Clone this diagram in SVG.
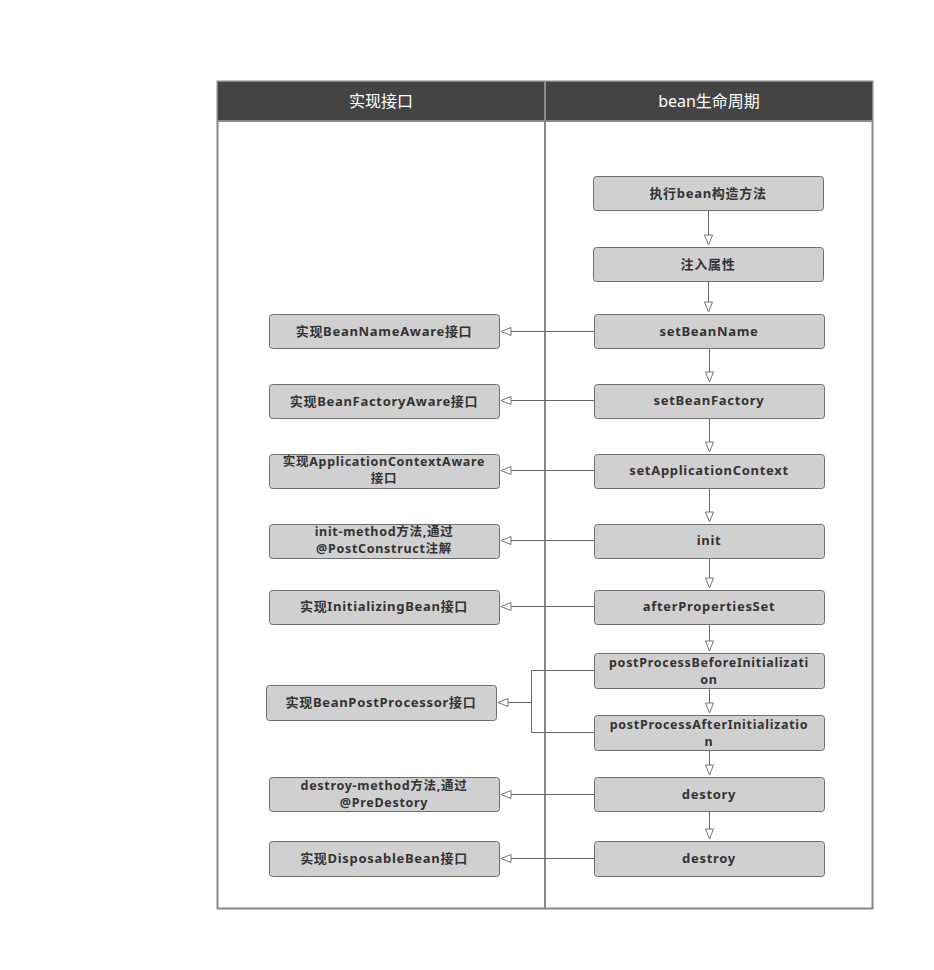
<svg xmlns="http://www.w3.org/2000/svg" width="934" height="970" viewBox="0 0 934 970">
<defs>
<style>
.node rect{fill:#d0d0d0;stroke:#6f6f6f;stroke-width:1}
.node text{font-family:"Noto Sans","Noto Sans CJK SC",sans-serif;font-weight:bold;font-size:13px;letter-spacing:0.7px;fill:#333;text-anchor:middle}
.node text.two{font-size:12.5px}
.hdr{font-family:"Noto Sans","Noto Sans CJK SC",sans-serif;font-size:16px;fill:#fff;text-anchor:middle}
.conn path{fill:none;stroke:#666;stroke-width:1}
</style>
<marker id="tri" markerWidth="12" markerHeight="10" refX="11" refY="5" orient="auto" markerUnits="userSpaceOnUse">
<path d="M1,1 L11,5 L1,9 Z" fill="#fff" stroke="#777" stroke-width="1"/>
</marker>
</defs>
<rect width="934" height="970" fill="#fff"/>
<g id="frame">
<rect x="217.5" y="81.5" width="655" height="827" fill="#fff" stroke="#888" stroke-width="2"/>
<rect x="218" y="82" width="654" height="39" fill="#444"/>
<line x1="217" y1="121" x2="873" y2="121" stroke="#888" stroke-width="2"/>
<line x1="545" y1="81" x2="545" y2="909" stroke="#888" stroke-width="2"/>
<text class="hdr" x="381" y="107">实现接口</text>
<text class="hdr" x="709" y="107">bean生命周期</text>
</g>
<g class="conn" id="connectors">
<path d="M708.5,210 V245" marker-end="url(#tri)"/>
<path d="M708.5,281 V312" marker-end="url(#tri)"/>
<path d="M709.5,348 V382" marker-end="url(#tri)"/>
<path d="M709.5,418 V452" marker-end="url(#tri)"/>
<path d="M709.5,488 V522" marker-end="url(#tri)"/>
<path d="M709.5,558 V588" marker-end="url(#tri)"/>
<path d="M709.5,624 V651" marker-end="url(#tri)"/>
<path d="M709.5,688 V713" marker-end="url(#tri)"/>
<path d="M709.5,750 V775" marker-end="url(#tri)"/>
<path d="M709.5,811 V839" marker-end="url(#tri)"/>
<path d="M594,331.5 H501" marker-end="url(#tri)"/>
<path d="M594,400.5 H501" marker-end="url(#tri)"/>
<path d="M594,470.5 H501" marker-end="url(#tri)"/>
<path d="M594,540.5 H501" marker-end="url(#tri)"/>
<path d="M594,606.5 H501" marker-end="url(#tri)"/>
<path d="M594,670.5 H531.5 V732.5 H594"/>
<path d="M531.5,702.5 H498" marker-end="url(#tri)"/>
<path d="M594,794.5 H501" marker-end="url(#tri)"/>
<path d="M594,858.5 H501" marker-end="url(#tri)"/>
</g>
<g class="node" id="n-construct"><rect x="593.5" y="176.5" width="230" height="34" rx="3"/><text x="708" y="198">执行bean构造方法</text></g>
<g class="node" id="n-inject"><rect x="593.5" y="247.5" width="230" height="34" rx="3"/><text x="708" y="269">注入属性</text></g>
<g class="node" id="n-setBeanName"><rect x="594.5" y="314.5" width="230" height="34" rx="3"/><text x="709" y="336">setBeanName</text></g>
<g class="node" id="n-setBeanFactory"><rect x="594.5" y="384.5" width="230" height="34" rx="3"/><text x="709" y="405">setBeanFactory</text></g>
<g class="node" id="n-setAppCtx"><rect x="594.5" y="454.5" width="230" height="34" rx="3"/><text x="709" y="475">setApplicationContext</text></g>
<g class="node" id="n-init"><rect x="594.5" y="524.5" width="230" height="34" rx="3"/><text x="709" y="545">init</text></g>
<g class="node" id="n-afterProps"><rect x="594.5" y="590.5" width="230" height="34" rx="3"/><text x="709" y="611">afterPropertiesSet</text></g>
<g class="node" id="n-ppBefore"><rect x="594.5" y="653.5" width="230" height="35" rx="3"/><text class="two" x="709" y="667">postProcessBeforeInitializati</text><text class="two" x="709" y="684">on</text></g>
<g class="node" id="n-ppAfter"><rect x="594.5" y="715.5" width="230" height="35" rx="3"/><text class="two" x="709" y="729">postProcessAfterInitializatio</text><text class="two" x="709" y="746">n</text></g>
<g class="node" id="n-destory"><rect x="594.5" y="777.5" width="230" height="34" rx="3"/><text x="709" y="799">destory</text></g>
<g class="node" id="n-destroy"><rect x="594.5" y="841.5" width="230" height="35" rx="3"/><text x="709" y="863">destroy</text></g>
<g class="node" id="l-beanNameAware"><rect x="269.5" y="314.5" width="230" height="34" rx="3"/><text x="384" y="336">实现BeanNameAware接口</text></g>
<g class="node" id="l-beanFactoryAware"><rect x="269.5" y="384.5" width="230" height="34" rx="3"/><text x="384" y="406">实现BeanFactoryAware接口</text></g>
<g class="node" id="l-appCtxAware"><rect x="269.5" y="454.5" width="230" height="34" rx="3"/><text class="two" x="384" y="466">实现ApplicationContextAware</text><text class="two" x="384" y="483">接口</text></g>
<g class="node" id="l-initMethod"><rect x="269.5" y="524.5" width="230" height="34" rx="3"/><text class="two" x="384" y="536">init-method方法,通过</text><text class="two" x="384" y="553">@PostConstruct注解</text></g>
<g class="node" id="l-initializingBean"><rect x="269.5" y="590.5" width="230" height="34" rx="3"/><text x="384" y="611">实现InitializingBean接口</text></g>
<g class="node" id="l-beanPostProcessor"><rect x="266.5" y="685.5" width="230" height="35" rx="3"/><text x="381" y="707">实现BeanPostProcessor接口</text></g>
<g class="node" id="l-destroyMethod"><rect x="269.5" y="777.5" width="230" height="34" rx="3"/><text class="two" x="384" y="790">destroy-method方法,通过</text><text class="two" x="384" y="807">@PreDestory</text></g>
<g class="node" id="l-disposableBean"><rect x="269.5" y="841.5" width="230" height="35" rx="3"/><text x="384" y="863">实现DisposableBean接口</text></g>
</svg>
